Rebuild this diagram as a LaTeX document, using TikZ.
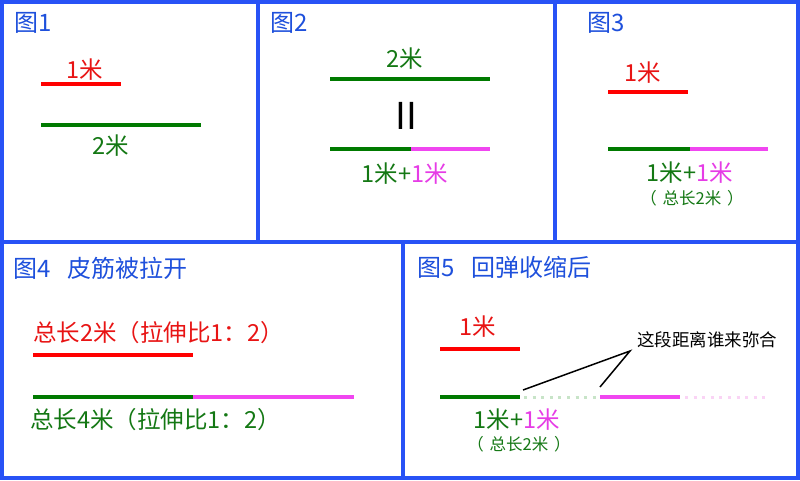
\documentclass[tikz,border=0pt]{standalone}
\usepackage{fontspec}
\setmainfont{Noto Sans CJK SC}
\definecolor{frameblue}{RGB}{40,82,246}
\definecolor{titleblue}{RGB}{30,80,220}
\definecolor{segred}{RGB}{255,0,0}
\definecolor{txtred}{RGB}{232,20,20}
\definecolor{seggreen}{RGB}{0,122,0}
\definecolor{txtgreen}{RGB}{20,120,20}
\definecolor{segpink}{RGB}{240,70,240}
\definecolor{txtpink}{RGB}{230,60,230}
\definecolor{dotgreen}{RGB}{200,228,200}
\definecolor{dotpink}{RGB}{250,212,245}
\begin{document}
\begin{tikzpicture}[x=1pt,y=-1pt,
  panel/.style={draw=frameblue,line width=4pt},
  title/.style={anchor=west,text=titleblue,font=\fontsize{24}{26}\selectfont,inner sep=0pt},
  lbl/.style={font=\fontsize{23.5}{25}\selectfont,inner sep=0pt},
  small/.style={font=\fontsize{16.5}{18}\selectfont,inner sep=0pt,text=txtgreen},
  seg/.style={line width=4pt},
  dots/.style={line width=3pt,dash pattern=on 3pt off 5.6pt}]
\useasboundingbox (0,0) rectangle (800,480);
\fill[white] (0,0) rectangle (800,480);
% frames
\draw[panel] (2,2) rectangle (798,478);
\draw[panel] (2,242) -- (798,242);
\draw[panel] (258,2) -- (258,242);
\draw[panel] (555,2) -- (555,242);
\draw[panel] (403,242) -- (403,478);
% panel 1
\node[title] (t1) at (14,23) {图1};
\node[lbl,text=txtred] (p1a) at (85,70) {1米};
\draw[seg,segred] (41,84) -- (121,84);
\draw[seg,seggreen] (41,125) -- (201,125);
\node[lbl,text=txtgreen] (p1b) at (111,146) {2米};
% panel 2
\node[title] (t2) at (270,23) {图2};
\node[lbl,text=txtgreen] (p2a) at (405,59) {2米};
\draw[seg,seggreen] (330,79) -- (490,79);
\node[font=\fontsize{37}{39}\selectfont,inner sep=0pt] (eq) at (406,116) {II};
\draw[seg,seggreen] (330,149) -- (411,149);
\draw[seg,segpink] (411,149) -- (490,149);
\node[lbl] (p2b) at (405,174) {\textcolor{txtgreen}{1米+}\textcolor{txtpink}{1米}};
% panel 3
\node[title] (t3) at (587,23) {图3};
\node[lbl,text=txtred] (p3a) at (643,73) {1米};
\draw[seg,segred] (608,92) -- (688,92);
\draw[seg,seggreen] (608,149) -- (690,149);
\draw[seg,segpink] (690,149) -- (768,149);
\node[lbl] (p3b) at (690,173) {\textcolor{txtgreen}{1米+}\textcolor{txtpink}{1米}};
\node[small] (p3c) at (692,198) {（\hspace{0.35em}总长2米\hspace{0.35em}）};
% panel 4
\node[title] (t4) at (13,268) {图4\hspace{0.7em}皮筋被拉开};
\node[lbl,anchor=west,text=txtred] (p4a) at (33,333) {总长2米（拉伸比1：2）};
\draw[seg,segred] (33,355) -- (193,355);
\draw[seg,seggreen] (33,397) -- (193,397);
\draw[seg,segpink] (193,397) -- (354,397);
\node[lbl,anchor=west,text=txtgreen] (p4b) at (30,420) {总长4米（拉伸比1：2）};
% panel 5
\node[title] (t5) at (417,267) {图5\hspace{0.7em}回弹收缩后};
\node[lbl,text=txtred] (p5a) at (478,327) {1米};
\draw[seg,segred] (440,349) -- (520,349);
\draw[seg,seggreen] (440,397) -- (520,397);
\draw[dots,dotgreen] (524,397) -- (598,397);
\draw[seg,segpink] (600,397) -- (680,397);
\draw[dots,dotpink] (685,397) -- (765,397);
\node[font=\fontsize{17.5}{19}\selectfont,inner sep=0pt,anchor=west] (q) at (637,340) {这段距离谁来弥合};
\coordinate (apex) at (630,351);
\coordinate (endA) at (523,390);
\coordinate (endB) at (600,387);
\draw[line width=1.5pt] (endA) -- (apex) -- (endB);
\node[lbl] (p5b) at (517,420) {\textcolor{txtgreen}{1米+}\textcolor{txtpink}{1米}};
\node[small] (p5c) at (519,444) {（\hspace{0.35em}总长2米\hspace{0.35em}）};
\end{tikzpicture}
\end{document}
